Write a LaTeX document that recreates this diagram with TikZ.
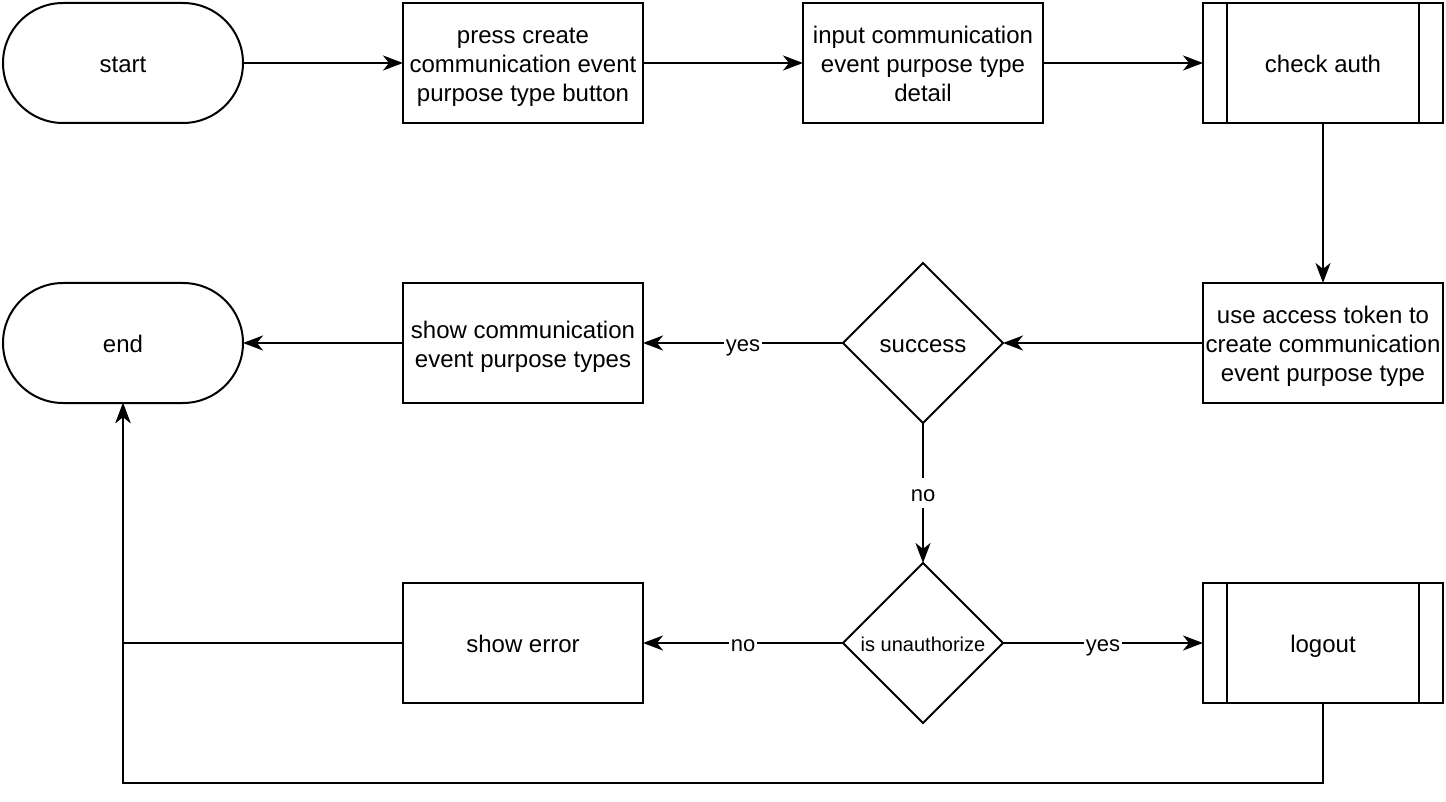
\documentclass[tikz,border=0pt]{standalone}
\usepackage{fontspec}
\setmainfont{Liberation Sans}
\usetikzlibrary{shapes.geometric,arrows.meta}
\newcommand\sx{\rule[-0.2em]{0pt}{1.2em}}
\begin{document}
\begin{tikzpicture}[x=0.5pt,y=-0.5pt,
  base/.style={draw,line width=1pt,align=center,font=\fontsize{12}{14.5}\selectfont,inner sep=0pt,outer sep=0pt},
  box/.style={base,rectangle,minimum width=120pt,minimum height=60pt},
  term/.style={base,rectangle,rounded corners=30pt,minimum width=120pt,minimum height=60pt},
  dec/.style={base,diamond,minimum width=80pt,minimum height=80pt,aspect=1},
  arr/.style={line width=1pt,-{Stealth[length=10pt,width=7.5pt,inset=3pt]}},
  lbl/.style={fill=white,inner sep=1pt,font=\fontsize{11}{13}\selectfont}]
\useasboundingbox (0,0) rectangle (1446,802);
\node[term] (start) at (123,63) {\sx start};
\node[box] (press) at (523,63) {\sx press create\\\sx communication event\\\sx purpose type button};
\node[box] (input) at (923,63) {\sx input communication\\\sx event purpose type\\\sx detail};
\node[box] (check) at (1323,63) {\sx check auth};
\draw[line width=1pt] ([xshift=12pt]check.north west) -- ([xshift=12pt]check.south west)
  ([xshift=-12pt]check.north east) -- ([xshift=-12pt]check.south east);
\node[box] (use) at (1323,343) {\sx use access token to\\\sx create communication\\\sx event purpose type};
\node[dec] (succ) at (923,343) {\sx success};
\node[box] (show) at (523,343) {\sx show communication\\\sx event purpose types};
\node[term] (end) at (123,343) {\sx end};
\node[dec,font=\fontsize{10}{12}\selectfont] (unauth) at (923,643) {\sx is unauthorize};
\node[box] (err) at (523,643) {\sx show error};
\node[box] (logout) at (1323,643) {\sx logout};
\draw[line width=1pt] ([xshift=12pt]logout.north west) -- ([xshift=12pt]logout.south west)
  ([xshift=-12pt]logout.north east) -- ([xshift=-12pt]logout.south east);
\coordinate (c1) at (123,643);
\coordinate (c2) at (1323,783);
\coordinate (c3) at (123,783);
\draw[arr] (start) -- (press);
\draw[arr] (press) -- (input);
\draw[arr] (input) -- (check);
\draw[arr] (check) -- (use);
\draw[arr] (use) -- (succ);
\draw[arr] (succ) -- node[lbl]{\sx yes} (show);
\draw[arr] (show) -- (end);
\draw[arr] (succ) -- node[lbl]{\sx no} (unauth);
\draw[arr] (unauth) -- node[lbl]{\sx no} (err);
\draw[arr] (unauth) -- node[lbl]{\sx yes} (logout);
\draw[arr] (err.west) -- (c1) -- (end.south);
\draw[arr] (logout.south) -- (c2) -- (c3) -- (end.south);
\end{tikzpicture}
\end{document}
